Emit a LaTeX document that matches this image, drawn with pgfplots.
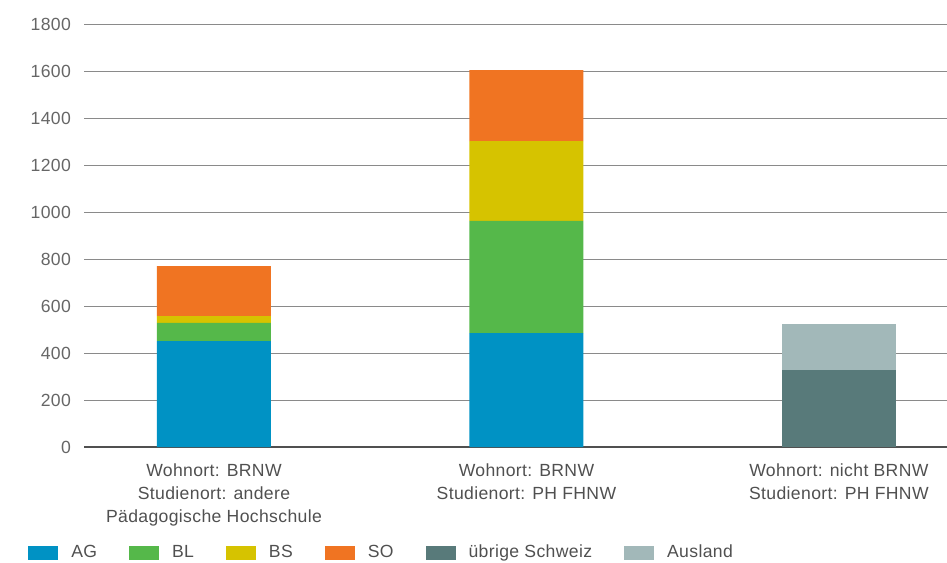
\documentclass[border=0pt]{standalone}
\usepackage{pgfplots}
\pgfplotsset{compat=1.18}
\usepackage{fontspec}
\setmainfont{Liberation Sans}[LetterSpace=2]

\definecolor{cAG}{HTML}{0092C4}
\definecolor{cBL}{HTML}{55B84A}
\definecolor{cBS}{HTML}{D6C300}
\definecolor{cSO}{HTML}{F07422}
\definecolor{cUE}{HTML}{587A7A}
\definecolor{cAU}{HTML}{A2B8B9}
\definecolor{gridgray}{HTML}{8A8A8A}
\definecolor{labelgray}{HTML}{666666}
\definecolor{textdark}{HTML}{505050}

\begin{document}
\begin{tikzpicture}
\begin{axis}[
    scale only axis,
    width=431.5pt,
    height=211.5pt,
    ybar stacked,
    bar width=57pt,
    xmin=-0.416, xmax=2.346,
    ymin=0, ymax=1800,
    ytick={0,200,...,1800},
    xtick={0,1,2},
    xticklabels={{Wohnort: BRNW\\Studienort: andere\\Pädagogische Hochschule},
                 {Wohnort: BRNW\\Studienort: PH FHNW},
                 {Wohnort: nicht BRNW\\Studienort: PH FHNW}},
    xticklabel style={align=center, font=\fontsize{8.8}{11.5}\selectfont, text=textdark, yshift=-5pt},
    yticklabel style={font=\fontsize{8.8}{10}\selectfont, text=labelgray, xshift=-3pt},
    /pgf/number format/assume math mode=true,
    /pgf/number format/1000 sep={},
    major tick length=0pt,
    axis line style={draw=none},
    ymajorgrids,
    grid style={gridgray, line width=0.5pt},
    legend columns=6,
    legend style={at={(-0.065,-0.250)}, anchor=west, draw=none, fill=none,
        inner sep=0pt, font=\fontsize{8.8}{10}\selectfont, text=textdark,
        /tikz/every even column/.append style={column sep=14pt}},
    legend image code/.code={\fill[#1] (0pt,-3.5pt) rectangle (15pt,3.5pt);
        \path (19.5pt,0pt);},
    every axis plot/.append style={draw=none},
]
\addplot[fill=cAG] coordinates {(0,451) (1,485) (2,0)};
\addplot[fill=cBL] coordinates {(0,77) (1,477) (2,0)};
\addplot[fill=cBS] coordinates {(0,29) (1,340) (2,0)};
\addplot[fill=cSO] coordinates {(0,213) (1,302) (2,0)};
\addplot[fill=cUE] coordinates {(0,0) (1,0) (2,328)};
\addplot[fill=cAU] coordinates {(0,0) (1,0) (2,195)};
\legend{AG, BL, BS, SO, übrige Schweiz, Ausland}
\draw[textdark, line width=0.6pt] (rel axis cs:0,0) -- (rel axis cs:1,0);
\coordinate (O) at (rel axis cs:0,0);
\end{axis}
\pgfresetboundingbox
\path[use as bounding box] ([shift={(-42pt,-57.5pt)}]O) rectangle ([shift={(431.5pt,223.5pt)}]O);
\end{tikzpicture}
\end{document}
